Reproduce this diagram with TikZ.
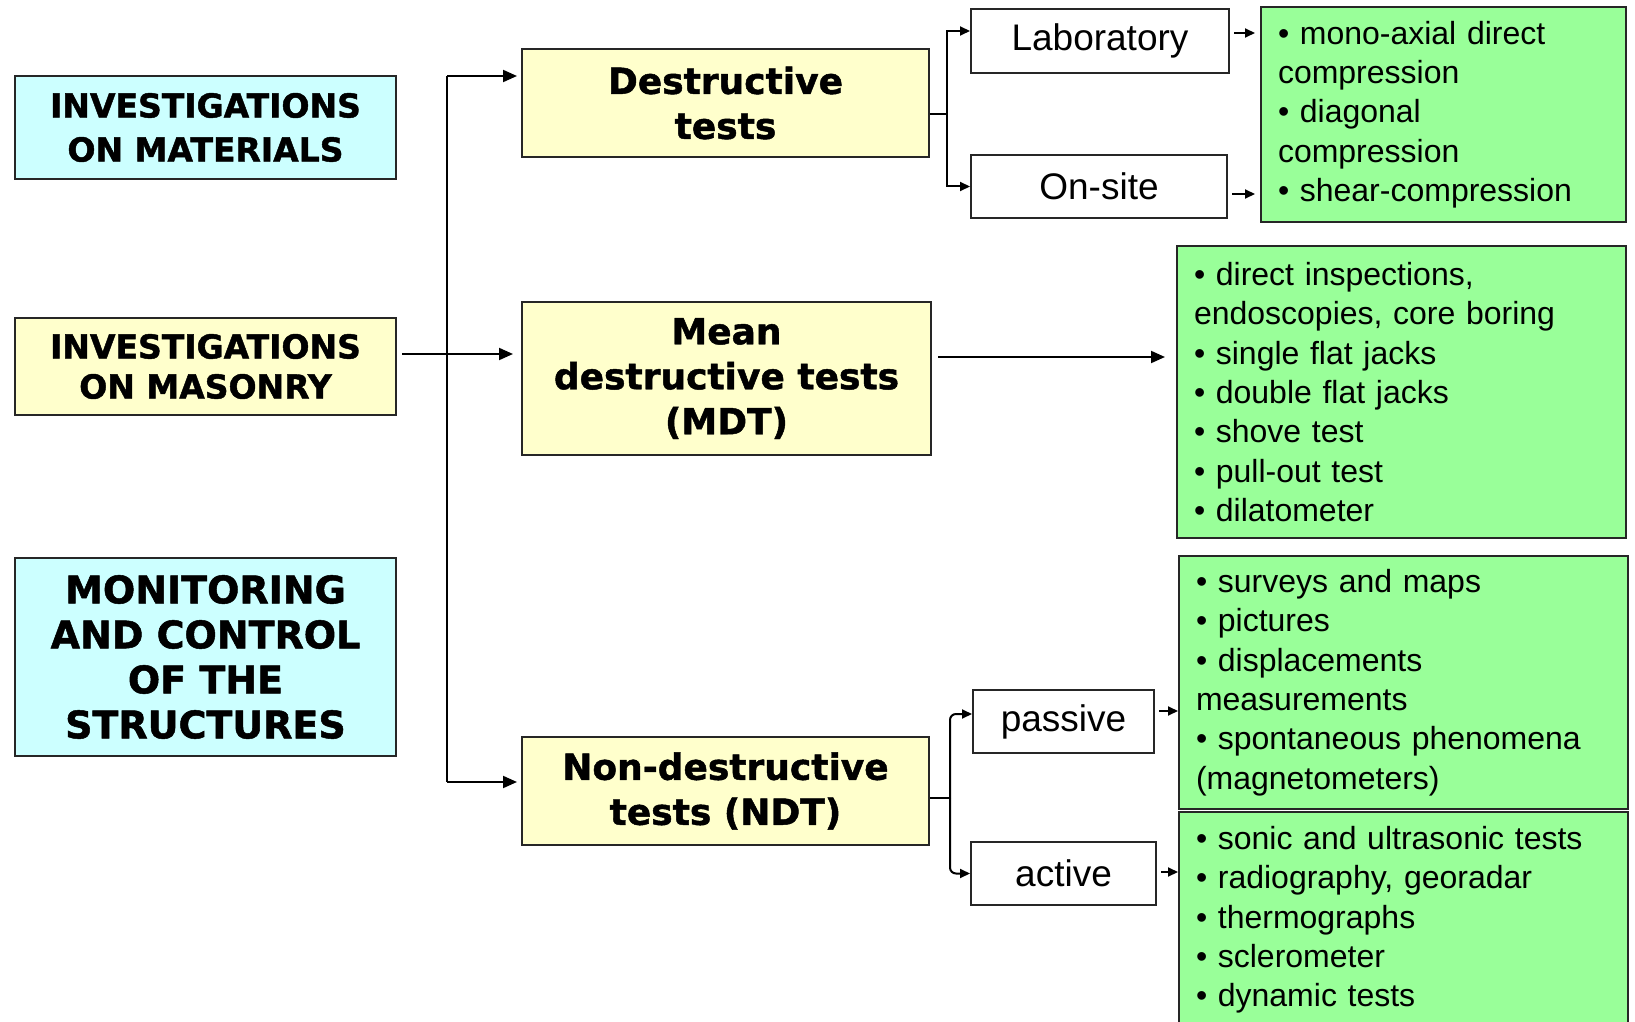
\documentclass[tikz,border=0pt]{standalone}
\usepackage{fontspec}
\setmainfont{Liberation Sans}
\newfontfamily\headfont{DejaVu Sans}[BoldFeatures={FakeBold=1.3}]
\usetikzlibrary{arrows.meta}
\definecolor{cyanfill}{HTML}{CCFFFF}
\definecolor{creamfill}{HTML}{FFFFCC}
\definecolor{greenfill}{HTML}{99FF99}
\begin{document}
\begin{tikzpicture}[x=0.5pt,y=-0.5pt,
  every node/.style={draw=black!85,line width=1pt,inner sep=0pt,align=center},
  head/.style={font=\headfont\bfseries\fontsize{18}{22.5}\selectfont},
  kind/.style={fill=white,font=\fontsize{18.5}{22}\selectfont},
  list/.style={fill=greenfill,align=left,inner xsep=8.5pt,font=\fontsize{16}{19.65}\selectfont},
  arr/.style={line width=1pt,-{Triangle[length=7pt,width=6pt]}},
  tip/.style={line width=1pt,-{Triangle[length=5pt,width=4.5pt]}}]
  \useasboundingbox (0,0) rectangle (1635,1022);
  \clip (0,0) rectangle (1635,1022);
  \fill[white] (0,0) rectangle (1635,1022);

  % left column
  \node[head,fill=cyanfill,minimum width=190.5pt,minimum height=51.5pt,font=\headfont\bfseries\fontsize{16.5}{22}\selectfont] (mat) at (205.5,127.5) {INVESTIGATIONS\\ON MATERIALS};
  \node[head,fill=creamfill,minimum width=190.5pt,minimum height=48.5pt,font=\headfont\bfseries\fontsize{16.5}{20}\selectfont] (mas) at (205.5,366.5) {INVESTIGATIONS\\ON MASONRY};
  \node[head,fill=cyanfill,minimum width=190.5pt,minimum height=99pt,font=\headfont\bfseries\fontsize{19}{22.5}\selectfont] (mon) at (205.5,657) {MONITORING\\AND CONTROL\\OF THE\\STRUCTURES};

  % test families
  \node[head,fill=creamfill,minimum width=203.5pt,minimum height=54pt] (des) at (725.5,103) {Destructive\\tests};
  \node[head,fill=creamfill,minimum width=204.5pt,minimum height=76.5pt] (mdt) at (726.5,378.5) {Mean\\destructive tests\\(MDT)};
  \node[head,fill=creamfill,minimum width=203.5pt,minimum height=54pt] (ndt) at (725.5,791) {Non-destructive\\tests (NDT)};

  % sub kinds
  \node[kind,minimum width=129pt,minimum height=32pt] (lab) at (1100,41) {Laboratory};
  \node[kind,minimum width=128pt,minimum height=31.5pt] (ons) at (1099,186.5) {On-site};
  \node[kind,minimum width=90.5pt,minimum height=31.5pt] (pas) at (1063.5,721.5) {passive};
  \node[kind,minimum width=92.5pt,minimum height=31.5pt] (act) at (1063.5,873.5) {active};

  % lists
  \node[list,text width=165.5pt,minimum height=107.5pt] (g1) at (1443.5,114.5) {• mono-axial direct\\compression\\• diagonal\\compression\\• shear-compression};
  \node[list,text width=207.5pt,minimum height=146pt] (g2) at (1401.5,392) {• direct inspections,\\endoscopies, core boring\\• single flat jacks\\• double flat jacks\\• shove test\\• pull-out test\\• dilatometer};
  \node[list,text width=207.5pt,minimum height=126.5pt] (g3) at (1403.5,682.5) {• surveys and maps\\• pictures\\• displacements\\measurements\\• spontaneous phenomena\\(magnetometers)};
  \node[list,text width=207.5pt,minimum height=108pt] (g4) at (1403.5,920) {• sonic and ultrasonic tests\\• radiography, georadar\\• thermographs\\• sclerometer\\• dynamic tests};

  % trunk
  \coordinate (ttop) at (447,76);
  \coordinate (tbot) at (447,782);
  \draw[line width=1pt] (ttop) -- (tbot);
  \draw[arr] (ttop) -- ([xshift=-2pt]des.west |- ttop);
  \draw[arr] (tbot) -- ([xshift=-2pt]ndt.west |- tbot);
  \draw[arr] ([xshift=2.5pt,yshift=6.25pt]mas.east) coordinate (m0) -- ([xshift=-4pt]mdt.west |- m0);

  % forks
  \coordinate (dfork) at (947,114);
  \draw[line width=1pt] (des.east |- dfork) -- (dfork);
  \draw[tip] (dfork) |- ([yshift=5pt]lab.west);
  \draw[tip] (dfork) |- (ons.west);
  \coordinate (nfork) at (950,798);
  \draw[line width=1pt] (ndt.east |- nfork) -- (nfork);
  \draw[tip,rounded corners=3pt] (nfork) |- ([yshift=3.75pt]pas.west);
  \draw[tip,rounded corners=3pt] (nfork) |- (act.west);

  % to lists
  \draw[tip] ([xshift=2pt,yshift=4pt]lab.east) coordinate (l0) -- ([xshift=-2.5pt]g1.west |- l0);
  \draw[tip] ([xshift=2pt,yshift=-3.75pt]ons.east) coordinate (o0) -- ([xshift=-2.5pt]g1.west |- o0);
  \draw[arr] ([xshift=3pt,yshift=10.75pt]mdt.east) coordinate (d0) -- ([xshift=-5.5pt]g2.west |- d0);
  \draw[tip] ([xshift=2pt,yshift=5.25pt]pas.east) coordinate (p0) -- (g3.west |- p0);
  \draw[tip] ([xshift=2pt,yshift=0.75pt]act.east) coordinate (a0) -- (g4.west |- a0);
\end{tikzpicture}
\end{document}
